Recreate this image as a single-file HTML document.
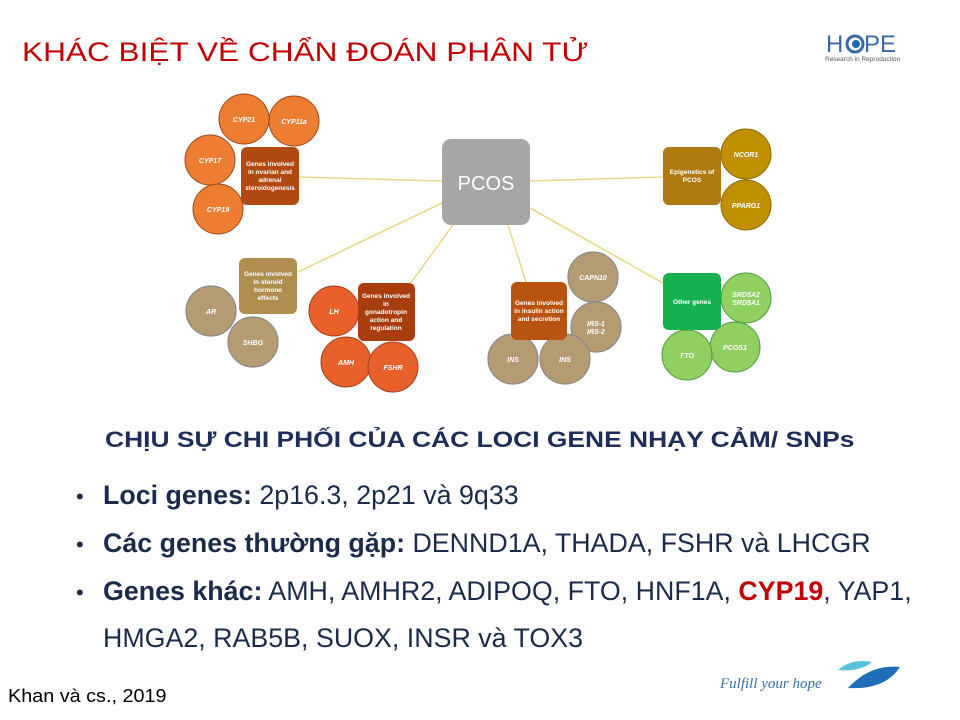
<!DOCTYPE html>
<html><head><meta charset="utf-8"><style>
body{margin:0;background:#fff;width:960px;height:720px;overflow:hidden;position:relative;font-family:"Liberation Sans",sans-serif}
.t{position:absolute;white-space:nowrap}
.b{position:absolute;left:103px;font-size:26.8px;color:#1c2b4a;white-space:nowrap}
.d{position:absolute;left:76px;font-size:22px;color:#1c2b4a}
</style></head><body>
<div class="t" style="left:22px;top:37px;font-size:27px;color:#c00000;transform:scaleX(1.17);transform-origin:left top">KHÁC BIỆT VỀ CHẨN ĐOÁN PHÂN TỬ</div>
<svg style="position:absolute;left:0;top:0" width="960" height="720" font-family="Liberation Sans, sans-serif">
<g stroke="#e8d27a" stroke-width="1.3">
<line x1="299" y1="177" x2="442" y2="181"/><line x1="298" y1="272" x2="442" y2="203"/>
<line x1="410" y1="284" x2="453" y2="225"/><line x1="530" y1="181" x2="663" y2="177"/>
<line x1="508" y1="225" x2="526" y2="282"/><line x1="530" y1="208" x2="663" y2="283"/>
</g>
<rect x="442" y="139" width="88" height="86" rx="9" fill="#a6a6a6"/>
<text x="486" y="190" font-size="20" fill="#fff" text-anchor="middle">PCOS</text>
<g stroke="#9a4a20" stroke-width="1" fill="#ed7d31">
<circle cx="244" cy="119" r="25"/><circle cx="294" cy="121" r="25"/><circle cx="210" cy="160" r="25"/><circle cx="218" cy="209" r="25"/></g>
<g stroke="#8a8a8a" stroke-width="1.2" fill="#b59b72">
<circle cx="211" cy="311" r="25"/><circle cx="253" cy="342" r="25"/>
<circle cx="593" cy="277" r="25"/><circle cx="596" cy="327" r="25"/><circle cx="513" cy="359" r="25"/><circle cx="565" cy="359" r="25"/></g>
<g stroke="#a04020" stroke-width="1" fill="#e8602a">
<circle cx="334" cy="311" r="25"/><circle cx="346" cy="362" r="25"/><circle cx="393" cy="367" r="25"/></g>
<g stroke="#8a6a00" stroke-width="1" fill="#c09000">
<circle cx="746" cy="154" r="25"/><circle cx="746" cy="205" r="25"/></g>
<g stroke="#4a9a40" stroke-width="1" fill="#8fd060">
<circle cx="746" cy="298" r="25"/><circle cx="735" cy="347" r="25"/><circle cx="687" cy="355" r="25"/></g>
<rect x="241" y="147" width="58" height="58" rx="6" fill="#b04a10"/>
<rect x="239" y="258" width="58" height="56" rx="6" fill="#b08e50"/>
<rect x="358" y="283" width="57" height="58" rx="6" fill="#a83e0e"/>
<rect x="663" y="147" width="58" height="58" rx="6" fill="#b07a10"/>
<rect x="511" y="282" width="56" height="58" rx="6" fill="#b85410"/>
<rect x="663" y="273" width="58" height="57" rx="6" fill="#16b04e"/>
<g fill="#fff" font-size="6.5" font-weight="bold" text-anchor="middle">
<text x="270" y="166">Genes involved</text><text x="270" y="174">in ovarian and</text><text x="270" y="182">adrenal</text><text x="270" y="190">steroidogenesis</text>
<text x="268" y="276">Genes involved</text><text x="268" y="284">in steroid</text><text x="268" y="292">hormone</text><text x="268" y="300">effects</text>
<text x="386" y="298">Genes involved</text><text x="386" y="306">in</text><text x="386" y="314">gonadotropin</text><text x="386" y="322">action and</text><text x="386" y="330">regulation</text>
<text x="692" y="174">Epigenetics of</text><text x="692" y="182">PCOS</text>
<text x="539" y="305">Genes involved</text><text x="539" y="313">in insulin action</text><text x="539" y="321">and secretion</text>
<text x="692" y="304">Other genes</text>
</g>
<g fill="#fff" font-size="7" font-style="italic" font-weight="bold" text-anchor="middle">
<text x="244" y="122">CYP21</text><text x="294" y="124">CYP11a</text><text x="210" y="163">CYP17</text><text x="218" y="212">CYP19</text>
<text x="211" y="314">AR</text><text x="253" y="345">SHBG</text>
<text x="334" y="314">LH</text><text x="346" y="365">AMH</text><text x="393" y="370">FSHR</text>
<text x="746" y="157">NCOR1</text><text x="746" y="208">PPARG1</text>
<text x="593" y="280">CAPN10</text><text x="596" y="326">IRS-1</text><text x="596" y="334">IRS-2</text><text x="513" y="362">INS</text><text x="565" y="362">INS</text>
<text x="746" y="297">SRD5A2</text><text x="746" y="305">SRD5A1</text><text x="735" y="350">PCOS1</text><text x="687" y="358">FTO</text>
</g>
<text x="826" y="52" font-size="24" fill="#3a6aa8">H</text>
<circle cx="855" cy="44" r="8" fill="none" stroke="#3a6aa8" stroke-width="3"/><circle cx="856" cy="44" r="4" fill="#1a6ab0"/>
<text x="864" y="52" font-size="24" fill="#3a6aa8">PE</text>
<text x="825" y="61" font-size="6.5" fill="#555">Research in Reproduction</text>
<text x="720" y="688" font-size="15" font-style="italic" fill="#3a70a8" font-family="Liberation Serif, serif">Fulfill your hope</text>
<path d="M838 670 Q852 658 872 662 Q860 672 838 670Z" fill="#5bc0de"/>
<path d="M848 688 Q870 664 900 667 Q885 690 848 688Z" fill="#1e6fb8"/>
</svg>
<div class="t" style="left:105px;top:427px;font-size:22px;font-weight:bold;color:#1f2d5a;transform:scaleX(1.2);transform-origin:left top">CHỊU SỰ CHI PHỐI CỦA CÁC LOCI GENE NHẠY CẢM/ SNPs</div>
<div class="d" style="top:484px">•</div><div class="b" style="top:480px"><b>Loci genes:</b> 2p16.3, 2p21 và 9q33</div>
<div class="d" style="top:532px">•</div><div class="b" style="top:528px"><b>Các genes thường gặp:</b> DENND1A, THADA, FSHR và LHCGR</div>
<div class="d" style="top:580px">•</div><div class="b" style="top:576px"><b>Genes khác:</b> AMH, AMHR2, ADIPOQ, FTO, HNF1A, <b style="color:#c00000">CYP19</b>, YAP1,</div>
<div class="b" style="top:623px">HMGA2, RAB5B, SUOX, INSR và TOX3</div>
<div class="t" style="left:8px;top:686px;font-size:18px;color:#000;transform:scaleX(1.1);transform-origin:left top">Khan và cs., 2019</div>
</body></html>
